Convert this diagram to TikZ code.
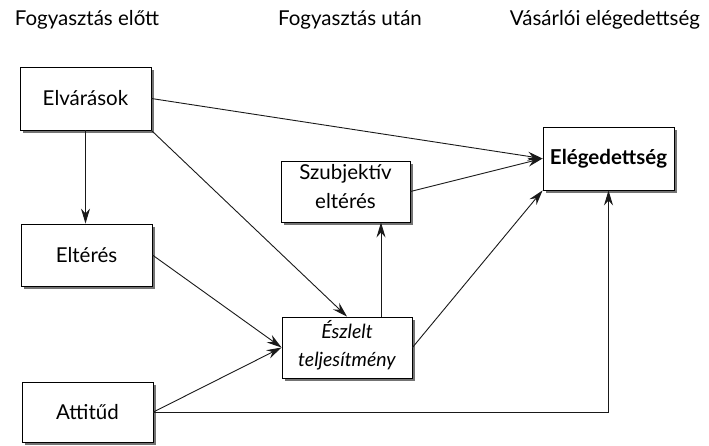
\documentclass[tikz,border=0pt]{standalone}
\usepackage{fontspec}
\setmainfont{Lato}
\usetikzlibrary{arrows.meta,shadows}
\begin{document}
\begin{tikzpicture}[x=1pt,y=-1pt,
  box/.style={draw=black, line width=0.9pt, fill=white, inner sep=0pt,
    align=center, font=\fontsize{20.5}{29}\selectfont,
    drop shadow={shadow xshift=2.5pt, shadow yshift=-2.5pt, fill=black!55, opacity=1}},
  head/.style={anchor=base, font=\fontsize{20.5}{24}\selectfont, inner sep=0pt},
  link/.style={draw=black!90, line width=0.9pt, -{Stealth[length=15pt,width=9pt,inset=5pt]}}]
  \useasboundingbox (0,0) rectangle (709,445);

  % column headings
  \node[head] (h1) at (87,25) {Fogyasztás előtt};
  \node[head] (h2) at (350,25) {Fogyasztás után};
  \node[head] (h3) at (605,25) {Vásárlói elégedettség};

  % boxes
  \node[box, minimum width=131, minimum height=63] (elv) at (85.5,98.5) {Elvárások};
  \node[box, minimum width=131, minimum height=62] (elt) at (86.5,255) {Eltérés};
  \node[box, minimum width=131, minimum height=60] (att) at (87.5,412) {Attitűd};
  \node[box, minimum width=129, minimum height=61, text depth=11pt] (szub) at (345.5,191.5) {Szubjektív\\eltérés};
  \node[box, minimum width=130, minimum height=61, text depth=9pt,
        font=\fontsize{19.5}{28}\selectfont\itshape] (esz) at (347,347.5) {Észlelt\\teljesítmény};
  \node[box, minimum width=131, minimum height=63,
        font=\fontsize{20.5}{24}\selectfont\bfseries] (eleg) at (608.5,158.5) {Elégedettség};

  % connectors
  \draw[link] (elv.south) -- (elv.south |- elt.north);
  \draw[link] (elv.east) -- (eleg.west);
  \draw[link] (elv.south east) -- (esz.north);
  \draw[link] (szub.east) -- (eleg.west);
  \draw[link] (elt.east) -- (esz.west);
  \draw[link] (att.east) -- (esz.west);
  \draw[link] (att.east) -- (eleg.south |- att.east) -- (eleg.south);
  \draw[link] ([xshift=34]esz.north) -- ([xshift=34]esz.north |- szub.south);
  \draw[link] (esz.east) -- (eleg.south west);
\end{tikzpicture}
\end{document}
